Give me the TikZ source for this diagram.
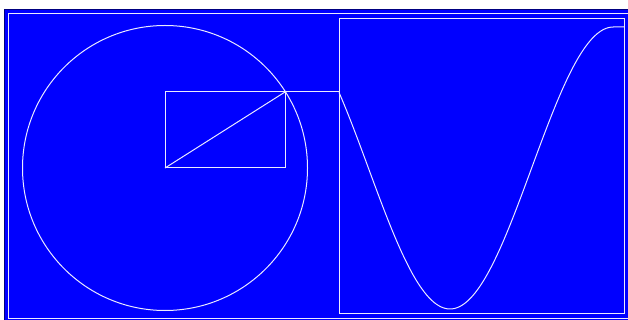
\documentclass[tikz,border=0pt]{standalone}
\begin{document}
\begin{tikzpicture}[x=1pt,y=-1pt,
  wire/.style={draw=white!92!blue,line width=1pt},
  outer/.style={draw=blue!50!black,line width=1.2pt,fill=blue}]
\useasboundingbox (0,0) rectangle (628,320);
\fill[white] (0,0) rectangle (628,320);
\path[outer] (4.6,9.6) rectangle (640,330);
\draw[wire] (8.8,13.2) -- (640,13.2);
\draw[wire] (8.8,13.2) -- (8.8,318.8) -- (640,318.8);
% circle and triangle
\coordinate (c) at (165,168);
\coordinate (p) at (285,92);
\coordinate (q) at (339,92);
\draw[wire] (c) circle[radius=142.5];
\draw[wire] (c) rectangle (p);
\draw[wire] (c) -- (p);
\draw[wire] (p) -- (q);
% graph box
\draw[wire] (339,19) rectangle (624,313);
\draw[wire] plot[domain=57.6:360,samples=120,smooth] ({339+(\x-57.6)*0.907},{168-141*cos(\x)}) -- (624,27);
\end{tikzpicture}
\end{document}
